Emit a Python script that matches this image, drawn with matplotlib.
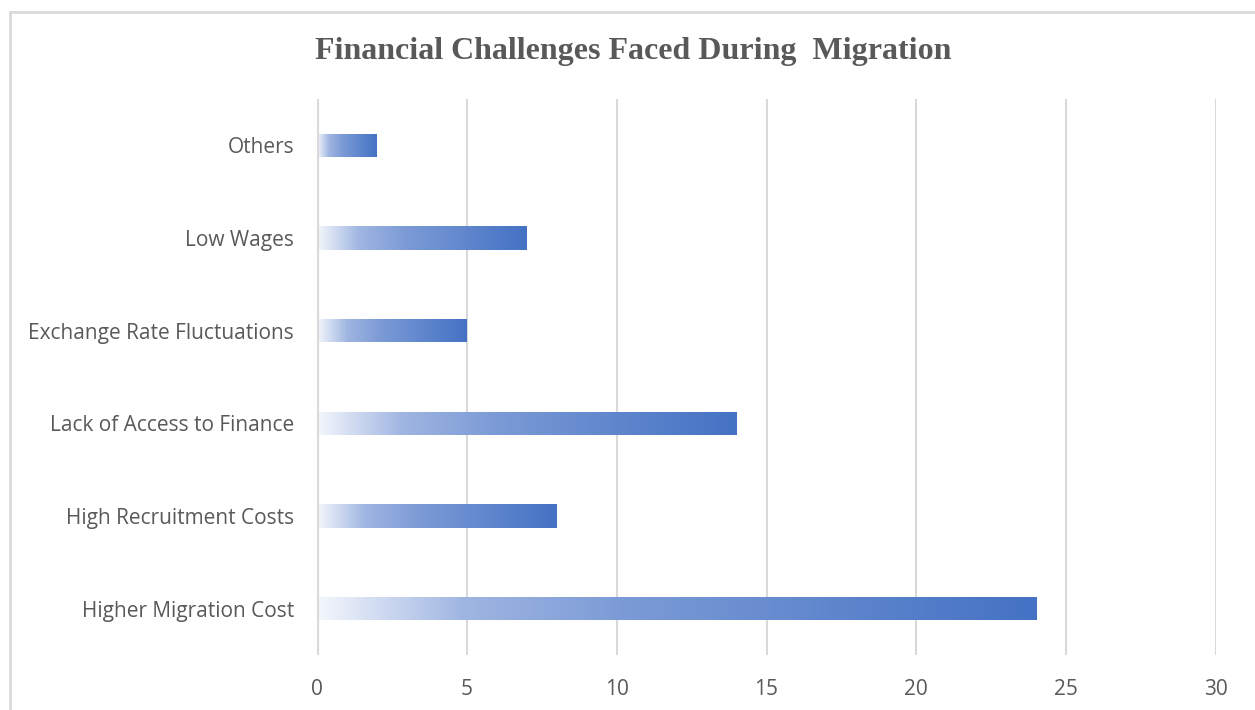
import matplotlib
matplotlib.use("Agg")
import matplotlib.pyplot as plt
import numpy as np
from matplotlib.colors import LinearSegmentedColormap
from matplotlib.patches import Rectangle

categories = ["Higher Migration Cost", "High Recruitment Costs", "Lack of Access to Finance",
              "Exchange Rate Fluctuations", "Low Wages", "Others"]
values = [24, 8, 14, 5, 7, 2]
xticks = [0, 5, 10, 15, 20, 25, 30]
title = "Financial Challenges Faced During  Migration"

W, H = 1255, 710
fig = plt.figure(figsize=(W / 100, H / 100), dpi=100)
ax = fig.add_axes([317 / W, (H - 655) / H, (1216 - 317) / W, (655 - 99) / H])

cmap = LinearSegmentedColormap.from_list(
    "grad", [(0.0, "#F4F7FC"), (0.2, "#A0B6E2"), (0.42, "#7C9BD6"), (1.0, "#4472C4")])
grad = np.linspace(0, 1, 256).reshape(1, -1)

bar_h = 0.25
bars = ax.barh(range(len(categories)), values, height=bar_h, color="none", edgecolor="none", zorder=3)
for b in bars:
    x0, y0 = b.get_x(), b.get_y()
    w, h = b.get_width(), b.get_height()
    im = ax.imshow(grad, extent=[x0, x0 + w, y0, y0 + h], aspect="auto", cmap=cmap,
                   interpolation="bicubic", zorder=3)
    im.set_clip_path(b)

ax.set_xlim(0, 30)
ax.set_ylim(-0.5, len(categories) - 0.5)
ax.set_xticks(xticks)
ax.set_yticks(range(len(categories)))
ax.set_yticklabels(categories)

for x in xticks[1:]:
    ax.axvline(x, color="#D9D9D9", lw=1.5, zorder=1)
ax.axvline(0, color="#D9D9D9", lw=3, zorder=4)

for s in ax.spines.values():
    s.set_visible(False)
ax.tick_params(axis="both", length=0, labelsize=15, labelcolor="#595959")
ax.tick_params(axis="x", pad=17)
ax.tick_params(axis="y", pad=16.5)
for t in ax.get_xticklabels() + ax.get_yticklabels():
    t.set_fontfamily("Open Sans")

fig.text(633 / W, 1 - 51 / H, title, ha="center", va="center", fontsize=23,
         fontweight="bold", family="Liberation Serif", color="#595959")

fig.patches.append(Rectangle((10 / W, -0.1), 1.2, 1 - 12 / H + 0.1, transform=fig.transFigure,
                             fill=False, edgecolor="#D9D9D9", lw=2, figure=fig))

fig.savefig("out.png", dpi=100)
